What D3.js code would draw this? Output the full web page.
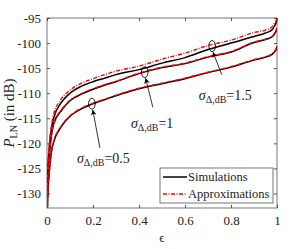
<script src="https://d3js.org/d3.v7.min.js"></script>
<body style="margin:0">
<script>
    // data
    var eps = [0.0005, 0.001, 0.002, 0.005, 0.01, 0.02, 0.03, 0.06, 0.1, 0.15, 0.2, 0.25, 0.3, 0.4, 0.5, 0.6, 0.7, 0.8, 0.9, 0.95, 0.98, 0.99, 0.997, 1];

    var sim15 = [-134, -130, -127.5, -124, -120.8, -116.8, -114.8, -112, -110, -108.6, -107.7, -107, -106.3, -105.3, -104.0, -102.9, -101.3, -100.0, -98.7, -98.0, -97.3, -96.5, -95.8, -95];
    var app15 = [-133.3, -129.5, -126.8, -123.3, -120.2, -116.2, -114.1, -111.3, -109.4, -108, -107.1, -106.3, -105.6, -104.6, -103.2, -102.0, -100.5, -99.4, -97.9, -97.4, -96.7, -96.0, -95.5, -95];
    var sim10 = [-135, -132, -129, -125.5, -122.5, -118.2, -116, -113.6, -111.5, -110.2, -109.2, -108.4, -107.7, -106.1, -104.9, -104.1, -102.8, -101.8, -99.9, -99.3, -98.7, -98.1, -97.5, -97];
    var app10 = [-135, -132, -129, -125.4, -122.4, -118.1, -115.9, -113.5, -111.4, -110.1, -109.1, -108.3, -107.6, -106.0, -104.8, -104.0, -102.7, -101.7, -99.8, -99.2, -98.6, -98.0, -97.4, -97];
    var sim05 = [-139, -136, -133, -129, -125.8, -121.5, -119.6, -116.8, -114.6, -113.1, -112.1, -111.3, -110.5, -109.1, -108.1, -107.1, -105.9, -104.8, -103.4, -102.8, -102.2, -101.7, -101.2, -100.6];
    var app05 = [-139, -136, -133, -129, -125.7, -121.4, -119.5, -116.7, -114.5, -113.0, -112.0, -111.2, -110.4, -109.0, -108.0, -107.0, -105.8, -104.7, -103.3, -102.7, -102.1, -101.6, -101.1, -100.6];

    var xTicks = [0, 0.2, 0.4, 0.6, 0.8, 1];
    var yTicks = [-130, -125, -120, -115, -110, -105, -100, -95];

    var SVGWidth = 305, SVGHeight = 249;
    var margins = {left: 47, right: 28, top: 18, bottom: 41},
        width = SVGWidth - margins.left - margins.right,
        height = SVGHeight - margins.top - margins.bottom;

    var x = d3.scaleLinear().domain([0, 1]).range([0, width]);
    var y = d3.scaleLinear().domain([-132.9, -95]).range([height, 0]);

    var serif = "'Liberation Serif', 'DejaVu Serif', 'Times New Roman', Times, serif";

    var svg = d3.select("body").append("svg")
        .attr("width", SVGWidth)
        .attr("height", SVGHeight)
        .style("background", "white")
        .append("g")
        .style("font-family", serif)
        .attr("transform", "translate(" + margins.left + "," + margins.top + ")");

    svg.append("clipPath").attr("id", "clip")
        .append("rect").attr("width", width).attr("height", height);

    var axisColor = "#555";

    // axes with inward ticks on all sides
    function styleAxis(g) {
        g.attr("font-size", 13);
        g.select(".domain").remove();
        g.selectAll("line").attr("stroke", axisColor);
        g.selectAll("text").attr("fill", "#222").style("font-family", serif);
    }
    svg.append("g").attr("transform", "translate(0," + height + ")")
        .call(d3.axisBottom(x).tickValues(xTicks).tickSize(-3).tickPadding(8).tickFormat(function(d) { return String(d); }))
        .call(styleAxis);
    svg.append("g")
        .call(d3.axisTop(x).tickValues(xTicks).tickSize(-3).tickFormat(""))
        .call(styleAxis);
    svg.append("g")
        .call(d3.axisLeft(y).tickValues(yTicks).tickSize(-3).tickPadding(6).tickFormat(function(d) { return String(d); }))
        .call(styleAxis);
    svg.append("g").attr("transform", "translate(" + width + ",0)")
        .call(d3.axisRight(y).tickValues(yTicks).tickSize(-3).tickFormat(""))
        .call(styleAxis);

    svg.append("rect")
        .attr("width", width).attr("height", height)
        .attr("fill", "none").attr("stroke", axisColor).attr("stroke-width", 0.8);

    // curves
    var line = d3.line()
        .x(function(d) { return x(d[0]); })
        .y(function(d) { return y(d[1]); })
        .curve(d3.curveMonotoneX);

    var curves = svg.append("g").attr("clip-path", "url(#clip)");
    [sim15, sim10, sim05].forEach(function(s) {
        curves.append("path")
            .datum(eps.map(function(e, i) { return [e, s[i]]; }))
            .attr("d", line)
            .attr("fill", "none").attr("stroke", "black").attr("stroke-width", 1.5);
    });
    [app15, app10, app05].forEach(function(s) {
        curves.append("path")
            .datum(eps.map(function(e, i) { return [e, s[i]]; }))
            .attr("d", line)
            .attr("fill", "none").attr("stroke", "#f00").attr("stroke-width", 1.4)
            .attr("stroke-dasharray", "4,1.5,1,1.5");
    });

    // annotations: ellipse + arrow + label
    var defs = svg.append("defs");
    defs.append("marker").attr("id", "arr")
        .attr("viewBox", "0 0 10 10").attr("refX", 9).attr("refY", 5)
        .attr("markerWidth", 7).attr("markerHeight", 7).attr("orient", "auto")
        .append("path").attr("d", "M0,0 L10,5 L0,10 L3,5 Z").attr("fill", "black");

    var notes = [
        {e: 0.195, v: -112.1, tx: 0.23, tv: -120.9, lx: 0.13, lv: -123.9, label: "0.5"},
        {e: 0.425, v: -105.8, tx: 0.46, tv: -112.8, lx: 0.365, lv: -117, label: "1"},
        {e: 0.718, v: -100.6, tx: 0.76, tv: -106.3, lx: 0.66, lv: -111.3, label: "1.5"}
    ];

    notes.forEach(function(n) {
        svg.append("ellipse")
            .attr("cx", x(n.e)).attr("cy", y(n.v))
            .attr("rx", 3.3).attr("ry", 5.5)
            .attr("fill", "none").attr("stroke", "black").attr("stroke-width", 0.9);
        svg.append("line")
            .attr("x1", x(n.tx)).attr("y1", y(n.tv))
            .attr("x2", x(n.e) + 1).attr("y2", y(n.v) + 6.5)
            .attr("stroke", "black").attr("stroke-width", 0.8)
            .attr("marker-end", "url(#arr)");
        var t = svg.append("text")
            .attr("x", x(n.lx)).attr("y", y(n.lv))
            .attr("font-size", 14).attr("fill", "#222");
        t.append("tspan").attr("font-style", "italic").text("σ");
        t.append("tspan").attr("dy", 3).attr("font-size", 10).text("Δ,dB");
        t.append("tspan").attr("dy", -3).text("=" + n.label);
    });

    // legend
    var lg = svg.append("g").attr("transform", "translate(" + (width - 117) + "," + (height - 40) + ")");
    lg.append("rect").attr("width", 113).attr("height", 35)
        .attr("fill", "white").attr("stroke", axisColor).attr("stroke-width", 0.8);
    lg.append("line").attr("x1", 3).attr("x2", 27).attr("y1", 9).attr("y2", 9)
        .attr("stroke", "black").attr("stroke-width", 1.5);
    lg.append("line").attr("x1", 3).attr("x2", 27).attr("y1", 26).attr("y2", 26)
        .attr("stroke", "#f00").attr("stroke-width", 1.4).attr("stroke-dasharray", "4,1.5,1,1.5");
    lg.append("text").attr("x", 28).attr("y", 13).attr("font-size", 12.5).attr("fill", "#222").text("Simulations");
    lg.append("text").attr("x", 28).attr("y", 30).attr("font-size", 12.5).attr("fill", "#222").text("Approximations");

    // axis labels
    svg.append("text")
        .attr("x", width / 2).attr("y", height + 34)
        .attr("text-anchor", "middle").attr("font-size", 13).attr("fill", "#222")
        .text("ϵ");

    var yl = svg.append("text")
        .attr("transform", "translate(" + (-33) + "," + (height / 2) + ") rotate(-90)")
        .attr("text-anchor", "middle").attr("font-size", 15).attr("fill", "#222");
    yl.append("tspan").attr("font-style", "italic").text("P");
    yl.append("tspan").attr("dy", 3).attr("font-size", 10).text("LN");
    yl.append("tspan").attr("dy", -3).text(" (in dB)");
</script>
</body>
